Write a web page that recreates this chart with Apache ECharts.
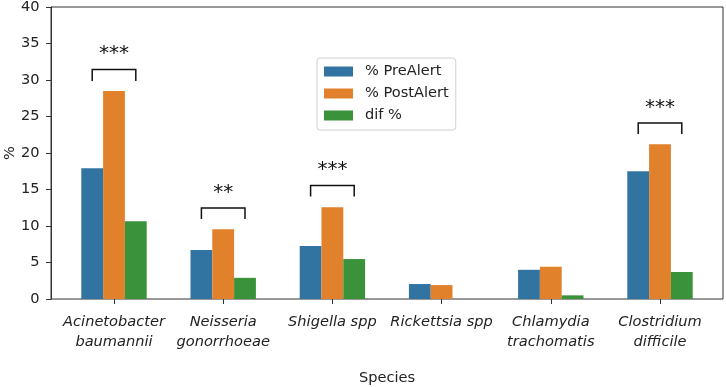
<!DOCTYPE html>
<html>
<head>
<meta charset="utf-8">
<script src="https://cdn.jsdelivr.net/npm/echarts@6/dist/echarts.min.js"></script>
<style>
html,body{margin:0;padding:0;background:#fff;}
#c{width:726px;height:387px;}
</style>
</head>
<body>
<div id="c"></div>
<script>
const species = ["Acinetobacter\nbaumannii", "Neisseria\ngonorrhoeae", "Shigella spp", "Rickettsia spp", "Chlamydia\ntrachomatis", "Clostridium\ndifficile"];
const preAlert = [17.9, 6.7, 7.25, 2.05, 4.0, 17.5];
const postAlert = [28.5, 9.57, 12.58, 1.91, 4.42, 21.2];
const difPct = [10.66, 2.9, 5.47, 0, 0.5, 3.7];
const yTicks = [0, 5, 10, 15, 20, 25, 30, 35, 40];
// significance brackets: category index, bracket bottom, bracket top, stars
const sigIndex = [0, 1, 2, 5];
const sigBottom = [29.85, 10.95, 14.05, 22.6];
const sigTop = [31.45, 12.45, 15.55, 24.1];
const sigLabel = ["***", "**", "***", "***"];

const FONT = "DejaVu Sans";
const BW = 21.8;
const chart = echarts.init(document.getElementById('c'), null, {renderer: 'canvas'});
const sigData = sigIndex.map((c, i) => [c, sigBottom[i], sigTop[i], sigLabel[i]]);

chart.setOption({
  animation: false,
  backgroundColor: '#fff',
  textStyle: {fontFamily: FONT},
  grid: [
    {left: 51, right: 3, top: 7, bottom: 88, outerBoundsMode: 'none', containLabel: false,
     show: true, borderColor: '#333', borderWidth: 1, backgroundColor: 'transparent'},
    {left: 59.4, right: 11.4, top: 7, bottom: 88, outerBoundsMode: 'none', containLabel: false}
  ],
  legend: {
    orient: 'vertical', left: 317, top: 58,
    icon: 'rect', itemWidth: 29, itemHeight: 10, itemGap: 5,
    backgroundColor: '#fff', borderColor: '#d0d0d0', borderWidth: 1, borderRadius: 3,
    padding: [5, 7, 6, 7],
    textStyle: {fontFamily: FONT, fontSize: 14.6, color: '#222', lineHeight: 17, padding: [0, 0, 0, 7]},
    data: ['% PreAlert', '% PostAlert', 'dif %']
  },
  xAxis: [
    {type: 'value', gridIndex: 0, min: 0, max: 1, show: false},
    {type: 'category', gridIndex: 1, data: species,
     axisLine: {show: false},
     axisTick: {show: true, alignWithLabel: true, length: 5, lineStyle: {color: '#333'}},
     axisLabel: {fontFamily: FONT, fontSize: 14.6, fontStyle: 'italic', color: '#222', lineHeight: 20, margin: 13, interval: 0},
     name: 'Species', nameLocation: 'middle', nameGap: 72, nameMoveOverlap: false,
     nameTextStyle: {fontFamily: FONT, fontSize: 14.6, color: '#222'}}
  ],
  yAxis: [
    {type: 'value', gridIndex: 0, min: 0, max: 40, interval: 5,
     axisLine: {show: true, lineStyle: {color: '#333'}},
     axisTick: {show: true, length: 5, lineStyle: {color: '#333'}},
     axisLabel: {fontFamily: FONT, fontSize: 14.6, color: '#222', margin: 11.5,
       formatter: v => yTicks.includes(v) ? String(v) : ''},
     splitLine: {show: false},
     name: '%', nameLocation: 'middle', nameGap: 33, nameRotate: 90, nameMoveOverlap: false,
     nameTextStyle: {fontFamily: FONT, fontSize: 14.6, color: '#222'}},
    {type: 'value', gridIndex: 1, min: 0, max: 40, show: false}
  ],
  series: [
    {name: '% PreAlert', type: 'bar', xAxisIndex: 1, yAxisIndex: 1, data: preAlert, barWidth: BW, barGap: '0%', itemStyle: {color: '#3274a1'}},
    {name: '% PostAlert', type: 'bar', xAxisIndex: 1, yAxisIndex: 1, data: postAlert, barWidth: BW, barGap: '0%', itemStyle: {color: '#e1812c'}},
    {name: 'dif %', type: 'bar', xAxisIndex: 1, yAxisIndex: 1, data: difPct, barWidth: BW, barGap: '0%', itemStyle: {color: '#3a923a'}},
    {type: 'custom', xAxisIndex: 1, yAxisIndex: 1, data: sigData, silent: true, z: 10,
     renderItem: function (params, api) {
       const c = api.value(0);
       const pb = api.coord([c, api.value(1)]);
       const pt = api.coord([c, api.value(2)]);
       const x0 = pb[0] - BW, x1 = pb[0] + BW;
       return {type: 'group', children: [
         {type: 'polyline', shape: {points: [[x0, pb[1]], [x0, pt[1]], [x1, pt[1]], [x1, pb[1]]]},
          style: {stroke: '#111', lineWidth: 1.5, fill: null}},
         {type: 'text', style: {text: sigData[params.dataIndex][3], x: pb[0], y: pt[1] - 5.5,
          textAlign: 'center', textVerticalAlign: 'bottom', fontFamily: FONT, fontSize: 20, fill: '#111'}}
       ]};
     }}
  ]
});
</script>
</body>
</html>
